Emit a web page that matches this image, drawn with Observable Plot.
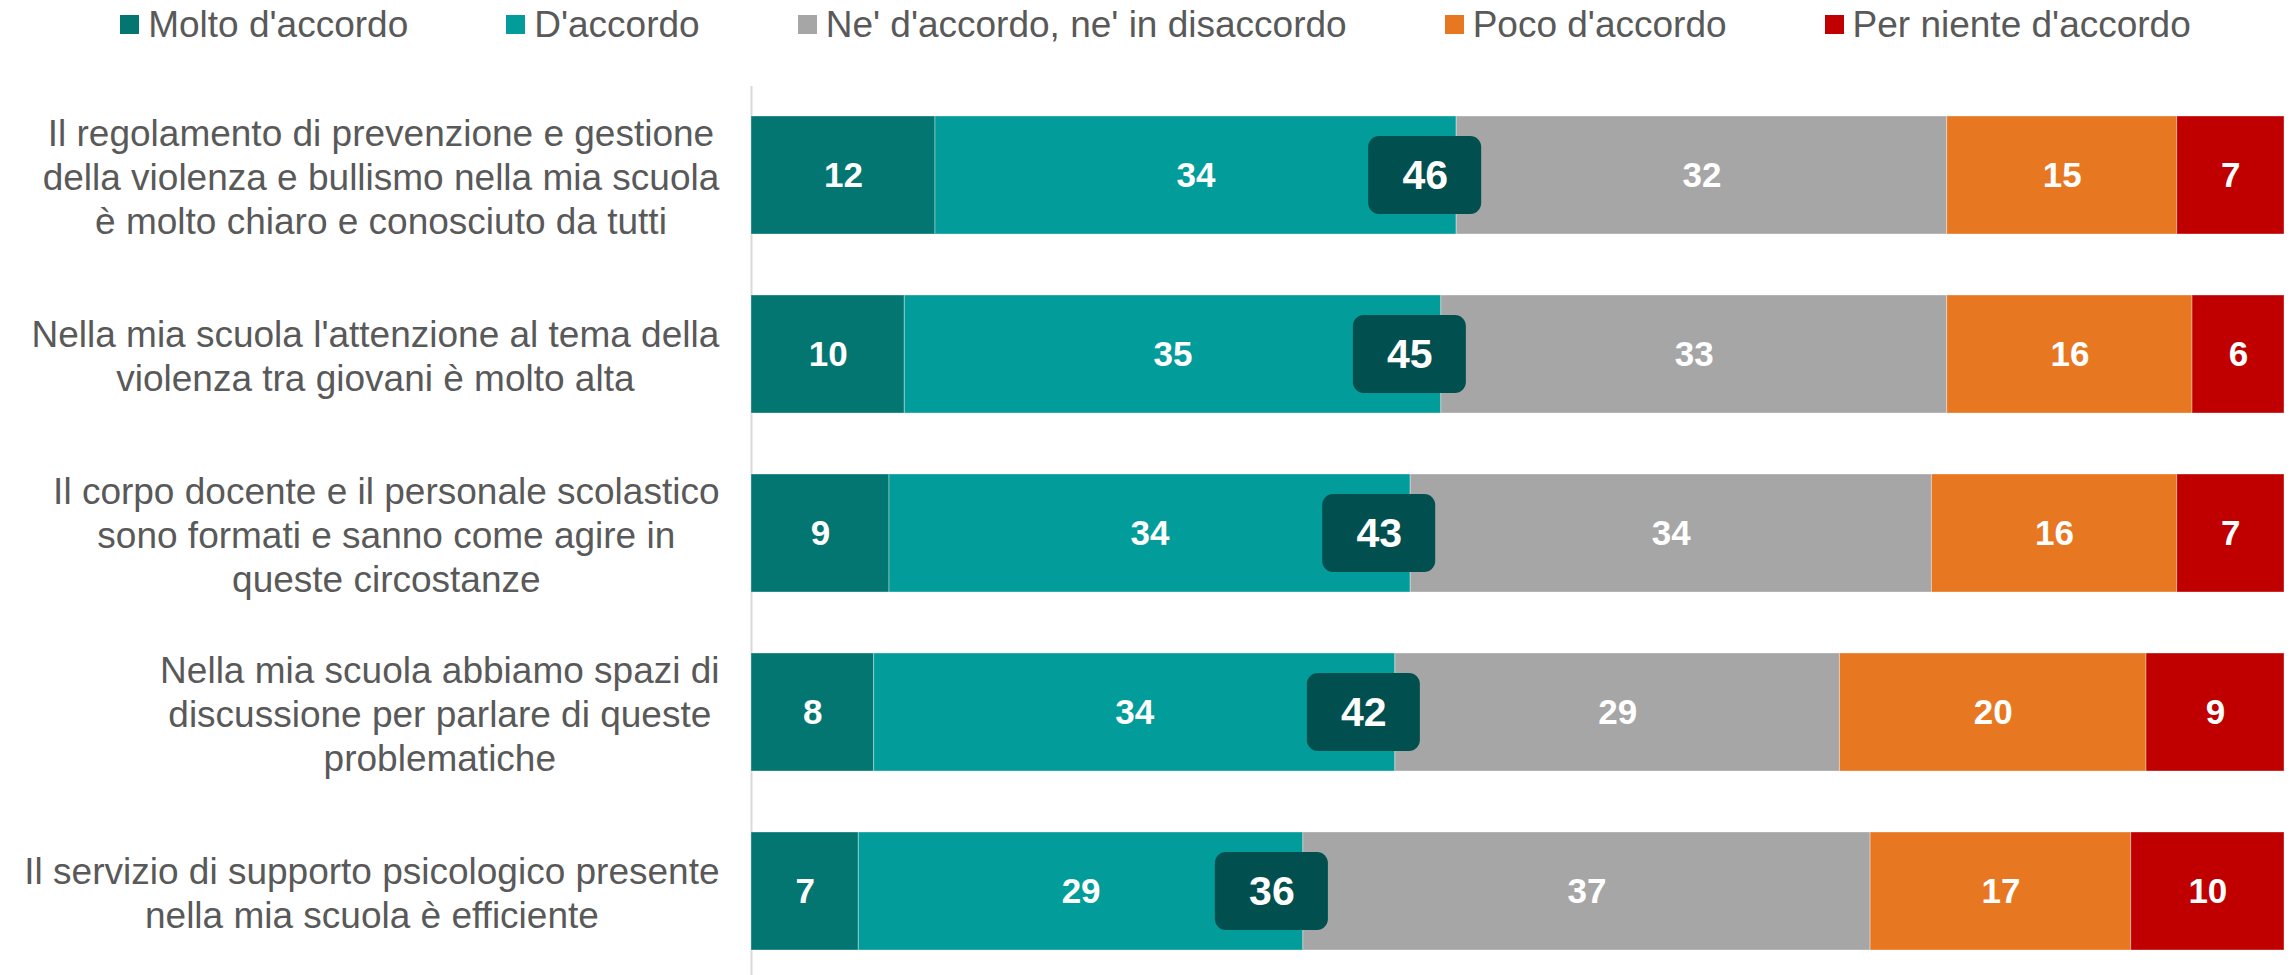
<!DOCTYPE html>
<html>
<head>
<meta charset="utf-8">
<script src="https://cdn.jsdelivr.net/npm/d3@7"></script>
<script src="https://cdn.jsdelivr.net/npm/@observablehq/plot@0.6"></script>
<style>
  html, body { margin: 0; padding: 0; background: #fff; }
  body { width: 2295px; height: 975px; overflow: hidden; font-family: "Liberation Sans", Arial, sans-serif; }
  #legend { height: 60px; display: flex; justify-content: center; gap: 98px; padding-left: 16px; box-sizing: border-box; width: 2295px; }
  .item { display: flex; align-items: baseline; font-size: 37px; line-height: 50px; color: #595959; white-space: nowrap; }
  .sw { display: inline-block; width: 19px; height: 19px; margin-right: 9px; position: relative; top: -3px; }
  svg { display: block; }
</style>
</head>
<body>
<div id="legend"></div>
<div id="chart"></div>
<script>
const questions = [
  "Il regolamento di prevenzione e gestione\ndella violenza e bullismo nella mia scuola\nè molto chiaro e conosciuto da tutti",
  "Nella mia scuola l'attenzione al tema della\nviolenza tra giovani è molto alta",
  "Il corpo docente e il personale scolastico\nsono formati e sanno come agire in\nqueste circostanze",
  "Nella mia scuola abbiamo spazi di\ndiscussione per parlare di queste\nproblematiche",
  "Il servizio di supporto psicologico presente\nnella mia scuola è efficiente"
];
const categories = ["Molto d'accordo", "D'accordo", "Ne' d'accordo, ne' in disaccordo", "Poco d'accordo", "Per niente d'accordo"];
const colors = ["#037672", "#029D9A", "#A6A6A6", "#E87722", "#C00000"];
const molto = [12, 10, 9, 8, 7];
const daccordo = [34, 35, 34, 34, 29];
const neutro = [32, 33, 34, 29, 37];
const poco = [15, 16, 16, 20, 17];
const perNiente = [7, 6, 7, 9, 10];
const totals = [46, 45, 43, 42, 36];

const series = [molto, daccordo, neutro, poco, perNiente];
const data = [];
questions.forEach((q, i) => {
  categories.forEach((c, j) => data.push({q, cat: c, value: series[j][i]}));
});
const totalData = questions.map((q, i) => ({q, total: totals[i]}));

// legend
const legend = document.getElementById("legend");
categories.forEach((c, j) => {
  const it = document.createElement("div");
  it.className = "item";
  const sw = document.createElement("span");
  sw.className = "sw";
  sw.style.background = colors[j];
  it.appendChild(sw);
  it.appendChild(document.createTextNode(c));
  legend.appendChild(it);
});

const plot = Plot.plot({
  width: 2295,
  height: 915,
  marginLeft: 751,
  marginRight: 11,
  marginTop: 26,
  marginBottom: 0,
  style: {fontFamily: "'Liberation Sans', Arial, sans-serif", background: "white"},
  x: {domain: [0, 100], axis: null},
  y: {domain: questions, paddingInner: 0.339, paddingOuter: 0.1487, align: 0.555, axis: null, label: null},
  color: {domain: categories, range: colors},
  marks: [
    Plot.ruleX([0], {stroke: "#D9D9D9", strokeWidth: 2}),
    Plot.barX(data, {x: "value", y: "q", fill: "cat", order: categories, stroke: "white", strokeOpacity: 0.35, strokeWidth: 1}),
    Plot.text(data, Plot.stackX({x: "value", y: "q", z: "cat", order: categories, text: d => String(d.value), fill: "white", fontSize: 35, fontWeight: "bold"})),
    Plot.barX(totalData, {x1: "total", x2: "total", y: "q", insetLeft: -88, insetRight: -25, insetTop: 20, insetBottom: 20, rx: 11, fill: "#014F4F"}),
    Plot.text(totalData, {x: "total", y: "q", dx: -31.5, text: d => String(d.total), fill: "white", fontSize: 41, fontWeight: "bold"}),
    Plot.axisY({tickSize: 0, tickPadding: 32, fontSize: 37, lineHeight: 1.19, color: "#595959", label: null, tickFormat: d => d})
  ]
});
document.getElementById("chart").appendChild(plot);

// center each multi-line label on its own widest line, right edge kept in place
d3.select(plot).selectAll("g[aria-label='y-axis tick label'] text").each(function() {
  const bb = this.getBBox();
  const w = bb.width;
  const t = this.getAttribute("transform") || "";
  this.setAttribute("text-anchor", "middle");
  this.setAttribute("transform", t + ` translate(${-w / 2},0)`);
});
</script>
</body>
</html>
